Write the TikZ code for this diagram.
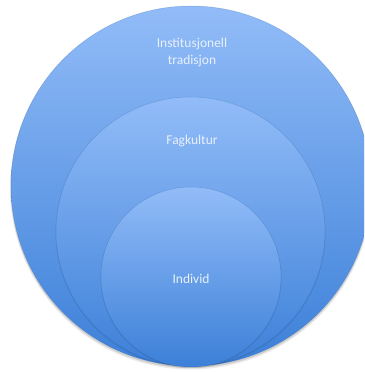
\documentclass[tikz,border=0pt]{standalone}
\usepackage{fontspec}
\setmainfont{Carlito}
\usetikzlibrary{shadows}
\definecolor{toplight}{HTML}{92BCF8}
\definecolor{botdark}{HTML}{3C80D8}
\definecolor{edgeblue}{HTML}{3D6FB5}
\definecolor{labeltext}{HTML}{E8F0FC}
\tikzset{
  ring/.style={draw=edgeblue, draw opacity=0.35, line width=0.5pt,
    top color=toplight, bottom color=botdark, shading angle=0},
  ringlabel/.style={text=labeltext, font=\fontsize{13.5}{17}\selectfont, align=center, inner sep=0pt},
  softshadow/.style={fill=black, fill opacity=0.12, draw=none}
}
\begin{document}
\begin{tikzpicture}[x=1pt,y=1pt]
\useasboundingbox (0,0) rectangle (364,372);
\clip (0,0) rectangle (364,372);
\fill[white] (0,0) rectangle (364,372);
% soft shadows
\fill[softshadow] (191,184.5) circle (180.5);
\fill[softshadow, fill opacity=0.08] (191,183.5) circle (181);
% outer
\path[ring] (191,186) circle (180) coordinate (outerc);
% middle shadow + circle
\fill[black, fill opacity=0.08] (190.5,139.5) circle (135);
\path[ring] (190.5,140.5) circle (134.5) coordinate (midc);
% inner shadow + circle
\fill[black, fill opacity=0.08] (191,94) circle (90.5);
\path[ring] (191,95) circle (90) coordinate (innc);
% labels
\node[ringlabel, anchor=base] (inst) at (192,324) {Institusjonell};
\node[ringlabel, anchor=base] (trad) at (192,307) {tradisjon};
\node[ringlabel, anchor=base] (fag) at (192,227) {Fagkultur};
\node[ringlabel, anchor=base] (ind) at (191,88) {Individ};
\end{tikzpicture}
\end{document}
